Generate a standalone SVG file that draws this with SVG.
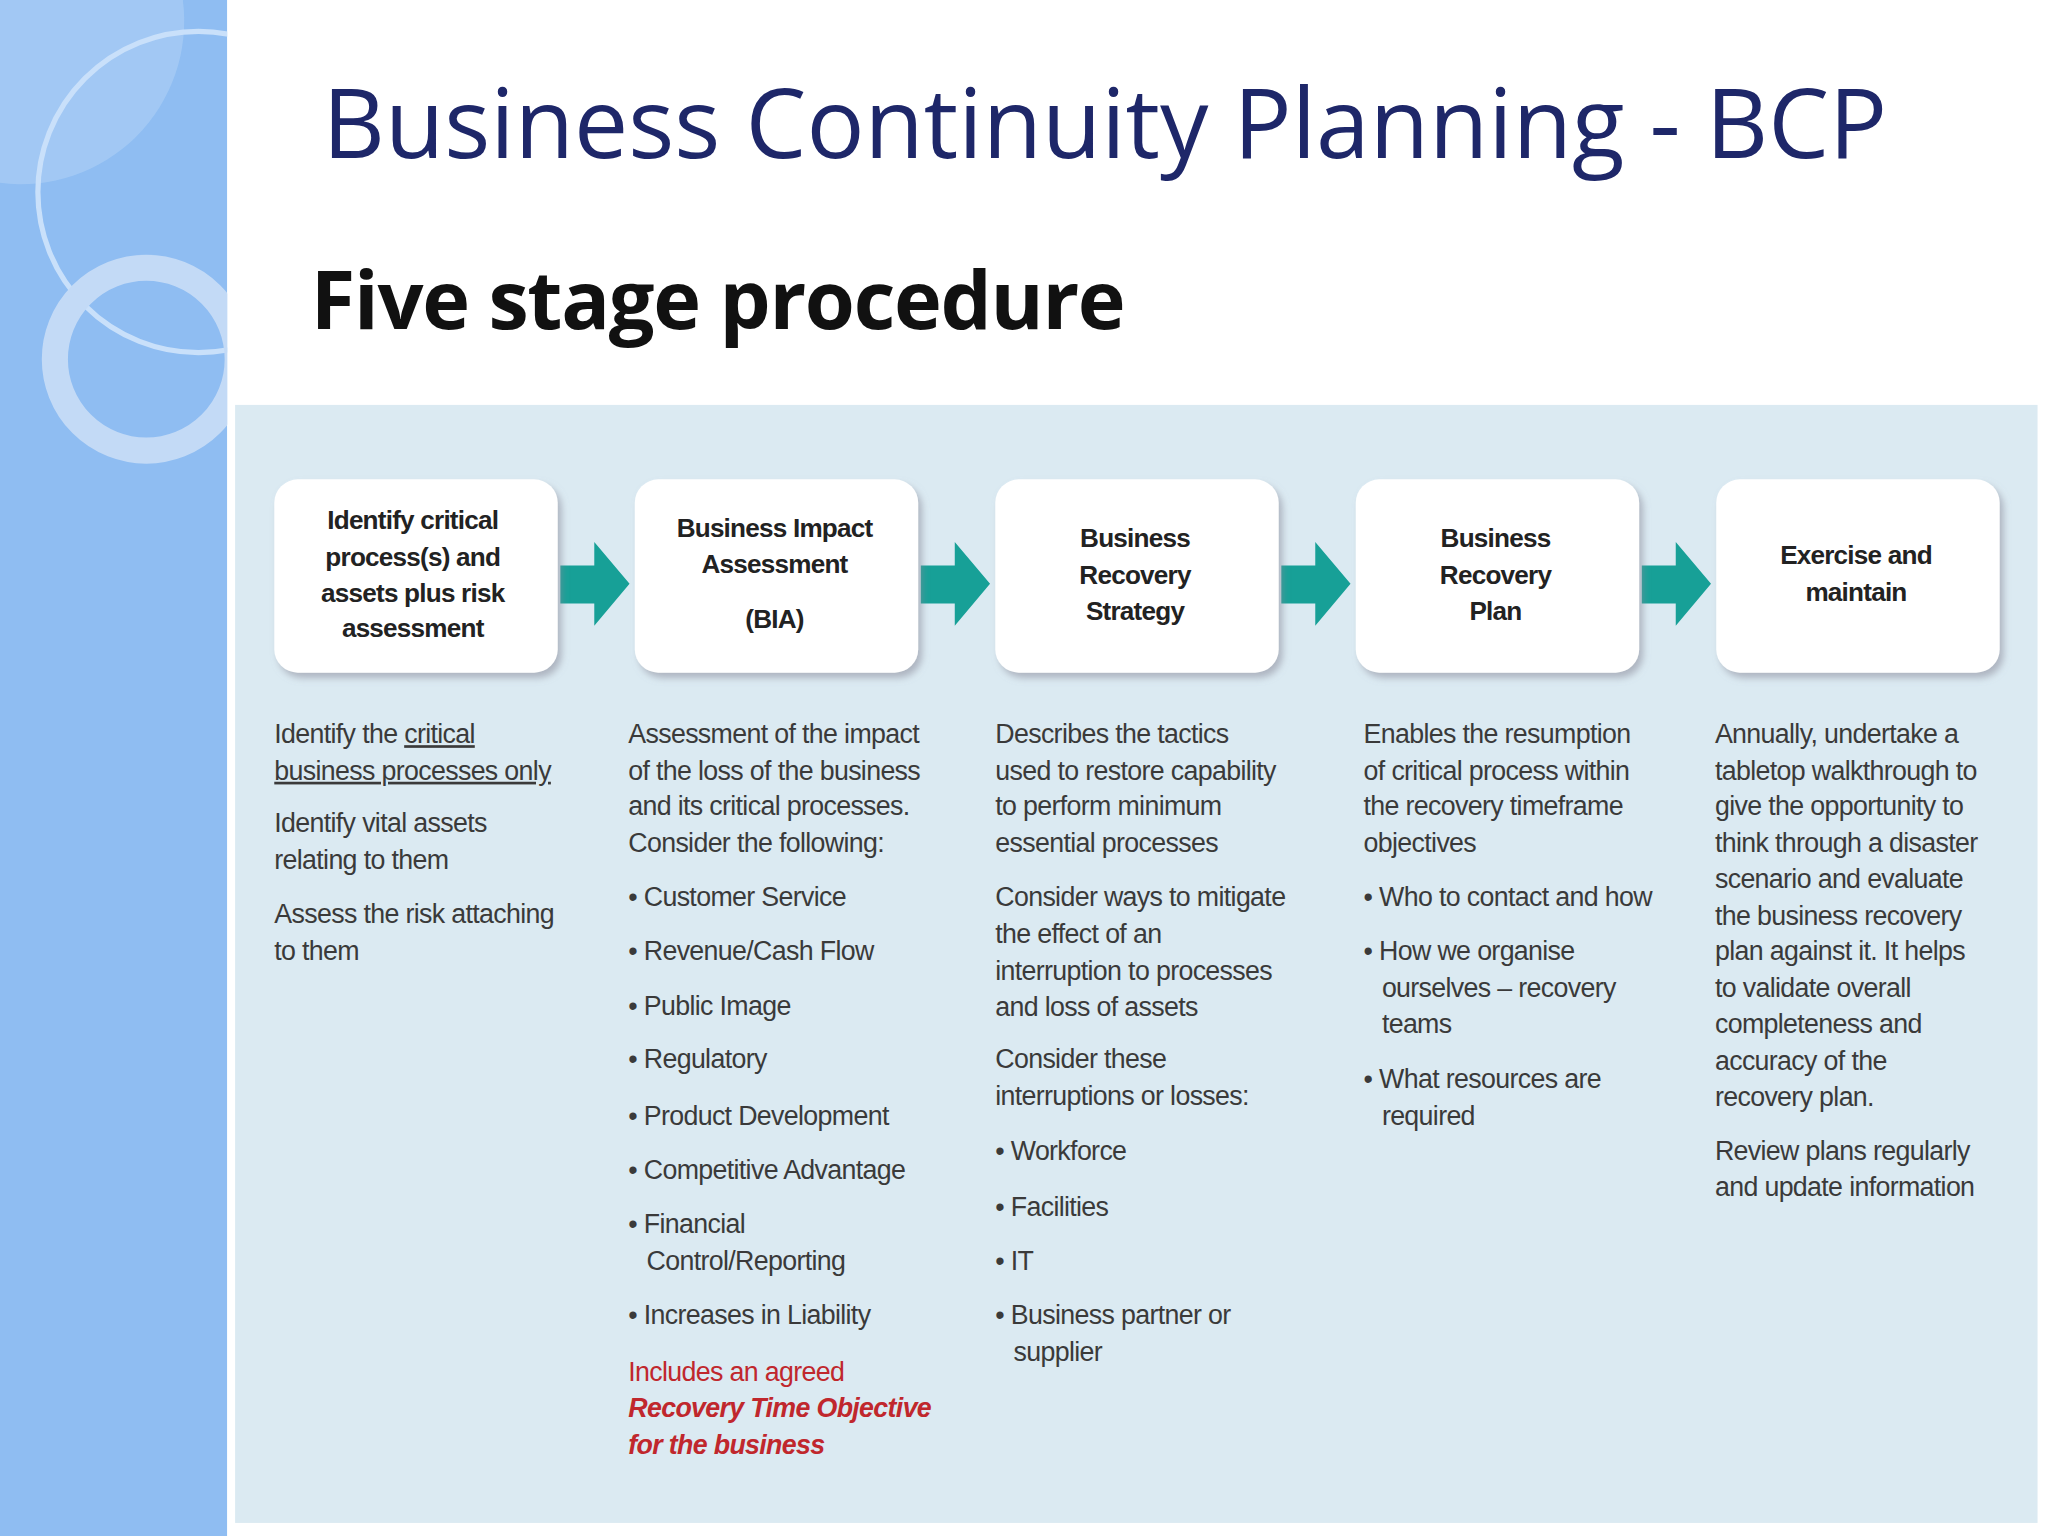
<svg xmlns="http://www.w3.org/2000/svg" width="2048" height="1536" viewBox="0 0 2048 1536">
<defs>
<style>
.t{font-family:"Liberation Sans",Arial,sans-serif;font-size:20.5px;fill:#3a3a3a;letter-spacing:-0.5px}
.b{font-family:"Liberation Sans",Arial,sans-serif;font-size:20px;font-weight:bold;fill:#222;letter-spacing:-0.6px;text-anchor:middle}
.r{fill:#c0272d}
.box{fill:#fff}
.arr{fill:#17a097}
</style>
<clipPath id="sc"><rect x="0" y="0" width="174" height="1176"/></clipPath>
<filter id="sh" x="-10%" y="-10%" width="125%" height="125%"><feDropShadow dx="3" dy="4" stdDeviation="3" flood-color="#889" flood-opacity="0.55"/></filter>
</defs>
<rect width="2048" height="1536" fill="#fff"/>
<g transform="scale(1.30612)">
<g id="sidebar" clip-path="url(#sc)">
<rect x="0" y="0" width="174" height="1176" fill="#8fbdf2"/>
<path d="M0 0 H140 A125 125 0 0 1 0 140 Z" fill="#a9cdf5" opacity="0.7"/>
<circle cx="152" cy="147" r="123" fill="none" stroke="#c9e0fa" stroke-width="4"/>
<circle cx="112" cy="275" r="70" fill="none" stroke="#c3daf6" stroke-width="20"/>
</g>
<text x="247" y="121" font-family="Open Sans,Liberation Sans,sans-serif" font-size="74" fill="#1e2769">Business Continuity Planning - BCP</text>
<text x="238" y="252" font-family="Open Sans,Liberation Sans,sans-serif" font-size="62" font-weight="bold" fill="#111" letter-spacing="-1">Five stage procedure</text>
<rect x="180" y="310" width="1380" height="856" fill="#dbeaf2"/>
<g id="connectors">
<path class="arr" d="M429 433 H455 V415 L482 447 L455 479 V462 H429 Z"/>
<path class="arr" d="M705 433 H731 V415 L758 447 L731 479 V462 H705 Z"/>
<path class="arr" d="M981 433 H1007 V415 L1034 447 L1007 479 V462 H981 Z"/>
<path class="arr" d="M1257 433 H1283 V415 L1310 447 L1283 479 V462 H1257 Z"/>
</g>
<g id="n1"><rect class="box" x="210" y="367" width="217" height="148" rx="18" filter="url(#sh)"/>
<text class="b" x="316" y="405">Identify critical</text><text class="b" x="316" y="433">process(s) and</text><text class="b" x="316" y="461">assets plus risk</text><text class="b" x="316" y="488">assessment</text></g>
<g id="n2"><rect class="box" x="486" y="367" width="217" height="148" rx="18" filter="url(#sh)"/>
<text class="b" x="593" y="411">Business Impact</text><text class="b" x="593" y="439">Assessment</text><text class="b" x="593" y="481">(BIA)</text></g>
<g id="n3"><rect class="box" x="762" y="367" width="217" height="148" rx="18" filter="url(#sh)"/>
<text class="b" x="869" y="419">Business</text><text class="b" x="869" y="447">Recovery</text><text class="b" x="869" y="475">Strategy</text></g>
<g id="n4"><rect class="box" x="1038" y="367" width="217" height="148" rx="18" filter="url(#sh)"/>
<text class="b" x="1145" y="419">Business</text><text class="b" x="1145" y="447">Recovery</text><text class="b" x="1145" y="475">Plan</text></g>
<g id="n5"><rect class="box" x="1314" y="367" width="217" height="148" rx="18" filter="url(#sh)"/>
<text class="b" x="1421" y="432">Exercise and</text><text class="b" x="1421" y="460">maintain</text></g>
<g id="col1">
<text class="t" x="210" y="569">Identify the <tspan text-decoration="underline">critical</tspan></text>
<text class="t" x="210" y="597" text-decoration="underline">business processes only</text>
<text class="t" x="210" y="637">Identify vital assets</text><text class="t" x="210" y="665">relating to them</text>
<text class="t" x="210" y="707">Assess the risk attaching</text><text class="t" x="210" y="735">to them</text>
</g>
<g id="col2">
<text class="t" x="481" y="569">Assessment of the impact</text><text class="t" x="481" y="597">of the loss of the business</text><text class="t" x="481" y="624">and its critical processes.</text><text class="t" x="481" y="652">Consider the following:</text>
<text class="t" x="481" y="694">• Customer Service</text><text class="t" x="481" y="735">• Revenue/Cash Flow</text><text class="t" x="481" y="777">• Public Image</text><text class="t" x="481" y="818">• Regulatory</text><text class="t" x="481" y="861">• Product Development</text><text class="t" x="481" y="903">• Competitive Advantage</text><text class="t" x="481" y="944">• Financial</text><text class="t" x="495" y="972">Control/Reporting</text><text class="t" x="481" y="1014">• Increases in Liability</text>
<text class="t r" x="481" y="1057">Includes an agreed</text><text class="t r" x="481" y="1085" font-weight="bold" font-style="italic">Recovery Time Objective</text><text class="t r" x="481" y="1113" font-weight="bold" font-style="italic">for the business</text>
</g>
<g id="col3">
<text class="t" x="762" y="569">Describes the tactics</text><text class="t" x="762" y="597">used to restore capability</text><text class="t" x="762" y="624">to perform minimum</text><text class="t" x="762" y="652">essential processes</text>
<text class="t" x="762" y="694">Consider ways to mitigate</text><text class="t" x="762" y="722">the effect of an</text><text class="t" x="762" y="750">interruption to processes</text><text class="t" x="762" y="778">and loss of assets</text>
<text class="t" x="762" y="818">Consider these</text><text class="t" x="762" y="846">interruptions or losses:</text>
<text class="t" x="762" y="888">• Workforce</text><text class="t" x="762" y="931">• Facilities</text><text class="t" x="762" y="972">• IT</text><text class="t" x="762" y="1014">• Business partner or</text><text class="t" x="776" y="1042">supplier</text>
</g>
<g id="col4">
<text class="t" x="1044" y="569">Enables the resumption</text><text class="t" x="1044" y="597">of critical process within</text><text class="t" x="1044" y="624">the recovery timeframe</text><text class="t" x="1044" y="652">objectives</text>
<text class="t" x="1044" y="694">• Who to contact and how</text><text class="t" x="1044" y="735">• How we organise</text><text class="t" x="1058" y="763">ourselves – recovery</text><text class="t" x="1058" y="791">teams</text>
<text class="t" x="1044" y="833">• What resources are</text><text class="t" x="1058" y="861">required</text>
</g>
<g id="col5">
<text class="t" x="1313" y="569">Annually, undertake a</text><text class="t" x="1313" y="597">tabletop walkthrough to</text><text class="t" x="1313" y="624">give the opportunity to</text><text class="t" x="1313" y="652">think through a disaster</text><text class="t" x="1313" y="680">scenario and evaluate</text><text class="t" x="1313" y="708">the business recovery</text><text class="t" x="1313" y="735">plan against it. It helps</text><text class="t" x="1313" y="763">to validate overall</text><text class="t" x="1313" y="791">completeness and</text><text class="t" x="1313" y="819">accuracy of the</text><text class="t" x="1313" y="847">recovery plan.</text>
<text class="t" x="1313" y="888">Review plans regularly</text><text class="t" x="1313" y="916">and update information</text>
</g>
</g>
</svg>
